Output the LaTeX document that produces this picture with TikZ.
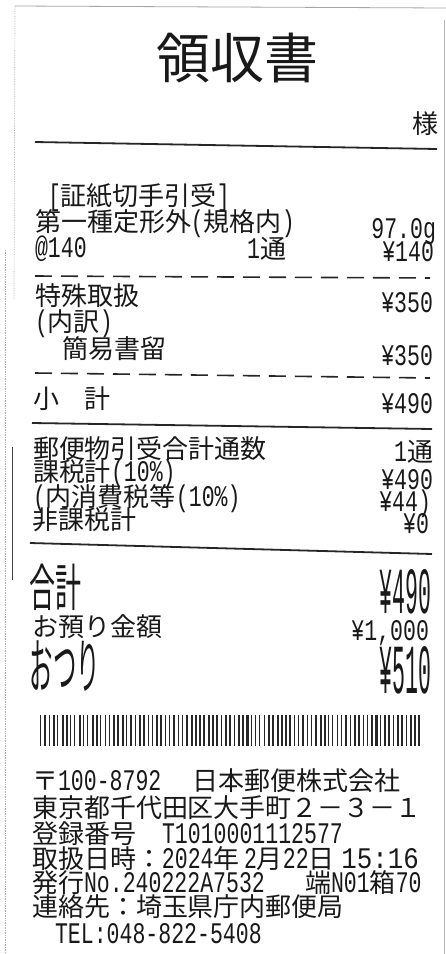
\documentclass[tikz,border=0pt]{standalone}
\usepackage{fontspec}
\usepackage{graphicx}
\setmainfont{Noto Sans CJK JP}
\newfontfamily\mono[Scale=1.15,FakeStretch=0.72]{Liberation Mono}
\newcommand\mm[1]{{\mono #1}}
\tikzset{
  txt/.style={inner sep=0pt, outer sep=0pt, text=black!90, font=\fontsize{26}{26}\selectfont},
  tl/.style={txt, anchor=base west},
  tr/.style={txt, anchor=base east},
  solidrule/.style={line width=1.8pt, black!85},
  dashrule/.style={line width=1.6pt, black!85, dash pattern=on 17pt off 9pt},
  paperedge/.style={gray!65, line width=0.7pt, densely dotted},
  paperline/.style={gray!70, line width=0.8pt},
}
\begin{document}
\begin{tikzpicture}[x=1pt,y=-1pt]
\useasboundingbox (0,0) rectangle (446,954);
\fill[white] (0,0) rectangle (446,954);

% paper edges
\coordinate (eTL) at (15,6);
\coordinate (eTR) at (446,8);
\coordinate (eL1) at (14,300);
\coordinate (eL2a) at (5,250);
\coordinate (eL2b) at (5,954);
\coordinate (eD1) at (12,447);
\coordinate (eD2) at (12,580);
\coordinate (eR1) at (444,20);
\coordinate (eR2) at (444,954);
\draw[paperline] (eTL) -- (eTR);
\draw[paperedge] (eTL) -- (eL1);
\draw[paperedge] (eL2a) -- (eL2b);
\draw[black!75, line width=0.9pt] (eD1) -- (eD2);
\draw[paperline, gray!55] (eR1) -- (eR2);

% header
\node[txt, anchor=base, font=\fontsize{54}{54}\selectfont] (title) at (237,78) {領収書};
\node[tr] (sama) at (438,133) {様};
\coordinate (r1a) at (35,142);
\coordinate (r1b) at (437,149);
\draw[solidrule] (r1a) -- (r1b);

% item block
\node[tl] (cat) at (48,205) {\mm{[}証紙切手引受\mm{]}};
\node[tl] (item) at (35,231) {第一種定形外\mm{(}規格内\mm{)}};
\node[tr] (wt) at (436,238) {\mm{97.0g}};
\node[tl] (unit) at (35,257) {\mm{@140}};
\node[tr] (qty) at (286,258) {\mm{1}通};
\node[tr] (p1) at (434,261) {\mm{¥140}};
\coordinate (d1a) at (35,276);
\coordinate (d1b) at (430,278);
\draw[dashrule] (d1a) -- (d1b);

% special handling
\node[tl] (sp) at (35,305) {特殊取扱};
\node[tr] (p2) at (433,312) {\mm{¥350}};
\node[tl] (brk) at (35,331) {\mm{(}内訳\mm{)}};
\node[tl] (reg) at (62,358) {簡易書留};
\node[tr] (p3) at (433,365) {\mm{¥350}};
\coordinate (d2a) at (35,373);
\coordinate (d2b) at (430,378);
\draw[dashrule] (d2a) -- (d2b);

% subtotal
\node[tl] (sub) at (33,408) {小　計};
\node[tr] (p4) at (433,413) {\mm{¥490}};
\coordinate (r2a) at (32,423);
\coordinate (r2b) at (432,429);
\draw[solidrule] (r2a) -- (r2b);

% counts and tax
\node[tl] (cnt) at (33,458) {郵便物引受合計通数};
\node[tr] (cntv) at (433,461) {\mm{1}通};
\node[tl] (tax) at (33,481) {課税計\mm{(10\%)}};
\node[tr] (taxv) at (433,489) {\mm{¥490}};
\node[tl] (ctax) at (33,506) {\mm{(}内消費税等\mm{(10\%)}};
\node[tr] (ctaxv) at (431,511) {\mm{¥44)}};
\node[tl] (ntax) at (32,529) {非課税計};
\node[tr] (ntaxv) at (429,533) {\mm{¥0}};
\coordinate (r3a) at (30,543);
\coordinate (r3b) at (432,554);
\draw[solidrule] (r3a) -- (r3b);

% totals
\node[tl] (tot) at (30,606) {\scalebox{1}[1.95]{合計}};
\node[tr] (totv) at (431,613) {\scalebox{1}[2.2]{\mm{¥490}}};
\node[tl] (dep) at (32,636) {お預り金額};
\node[tr] (depv) at (429,640) {\mm{¥1,000}};
\node[tl] (chg) at (30,688) {\scalebox{0.9}[2.3]{おつり}};
\node[tr] (chgv) at (431,693) {\scalebox{1}[2.35]{\mm{¥510}}};

% barcode
\pgfmathsetseed{12}
\foreach \i in {0,...,88}{
  \pgfmathsetmacro\bw{0.9+1.5*rnd}
  \fill[black!85] ({40+\i*4.3},715) rectangle ++(\bw,31);
}

% footer
\node[tl] (zip) at (32,790) {〒\mm{100-8792}};
\node[tl] (co) at (192,790) {日本郵便株式会社};
\node[tl] (addr) at (32,817) {東京都千代田区大手町２－３－１};
\node[tl] (regl) at (32,843) {登録番号};
\node[tl] (regn) at (162,843) {\mm{T1010001112577}};
\node[tl] (datel) at (32,868) {取扱日時：\mm{2024}年};
\node[tl] (dated) at (244,868) {\mm{2}月\mm{22}日};
\node[tr] (time) at (419,868) {\scalebox{1.2}[1]{\mm{15:16}}};
\node[tl] (iss) at (32,892) {発行\mm{No.240222A7532}};
\node[tl] (term) at (305,892) {端\mm{N01}箱\mm{70}};
\node[tl] (cont) at (32,916) {連絡先：埼玉県庁内郵便局};
\node[tl] (tel) at (55,943) {\mm{TEL:048-822-5408}};
\end{tikzpicture}
\end{document}
